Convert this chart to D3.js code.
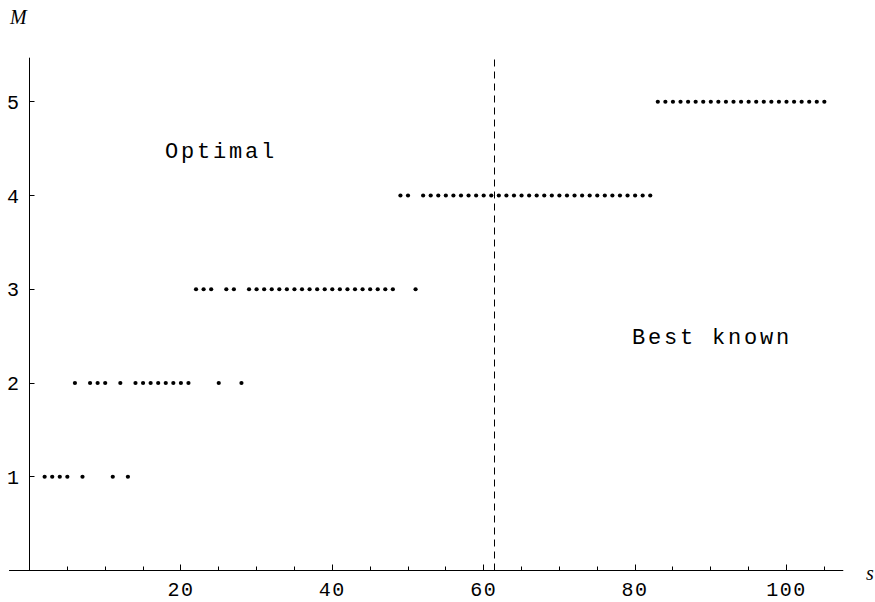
<!DOCTYPE html>
<html><head><meta charset="utf-8">
<script src="https://cdn.jsdelivr.net/npm/d3@7"></script>
<style>body{margin:0;background:#fff}svg{display:block}</style>
</head><body>
<script>
const row1 = [2,3,4,5,7,11,13];
const row2 = [6,8,9,10,12,14,15,16,17,18,19,20,21,25,28];
const row3 = [22,23,24,26,27,29,30,31,32,33,34,35,36,37,38,39,40,41,42,43,44,45,46,47,48,51];
const row4 = [49,50,52,53,54,55,56,57,58,59,60,61,62,63,64,65,66,67,68,69,70,71,72,73,74,75,76,77,78,79,80,81,82];
const row5 = [83,84,85,86,87,88,89,90,91,92,93,94,95,96,97,98,99,100,101,102,103,104,105];
const rows = [row1,row2,row3,row4,row5];
const rowM = [1,2,3,4,5];
const xMajor = [20,40,60,80,100];
const xMinor = d3.range(5,106,5);
const yTicks = [1,2,3,4,5];
const boundary = 61.5;
const labels = [{t:"Optimal", s:17.9, m:4.405},{t:"Best known", s:79.6, m:2.42}];

const W=875,H=602;
const svg=d3.select("body").append("svg").attr("width",W).attr("height",H);
const x=d3.scaleLinear().domain([0,105]).range([29.5,29.5+7.57*105]);
const y=d3.scaleLinear().domain([0,5]).range([570.5,101.75]);
const px=v=>Math.round(x(v)-0.5)+0.5;
const mono="'Liberation Mono','Courier New',monospace";

// axes lines
svg.append("line").attr("x1",x(-2.7)).attr("x2",x(107.5)).attr("y1",y(0)).attr("y2",y(0)).attr("stroke","#000").attr("stroke-width",1);
svg.append("line").attr("x1",px(0)).attr("x2",px(0)).attr("y1",y(0)).attr("y2",y(5.47)).attr("stroke","#000").attr("stroke-width",1);

// x ticks
svg.selectAll(".xmin").data(xMinor).join("line")
  .attr("x1",d=>px(d)).attr("x2",d=>px(d)).attr("y1",y(0)).attr("y2",d=>y(0)-(d%20===0?6:4))
  .attr("stroke","#000").attr("stroke-width",1);
svg.selectAll(".xl").data(xMajor).join("text")
  .attr("x",d=>x(d)).attr("y",596).attr("text-anchor","middle")
  .attr("font-family",mono).attr("font-size",20).attr("letter-spacing",1.5).text(d=>d);
// y ticks
svg.selectAll(".yt").data(yTicks).join("line")
  .attr("x1",px(0)).attr("x2",px(0)+5).attr("y1",d=>Math.round(y(d)-0.5)+0.5).attr("y2",d=>Math.round(y(d)-0.5)+0.5).attr("stroke","#000");
svg.selectAll(".yl").data(yTicks).join("text")
  .attr("x",19).attr("y",d=>y(d)+7).attr("text-anchor","end")
  .attr("font-family",mono).attr("font-size",20).text(d=>d);

// dashed boundary
svg.append("line").attr("x1",px(boundary)-1).attr("x2",px(boundary)-1).attr("y1",y(0)).attr("y2",y(5.47))
  .attr("stroke","#000").attr("stroke-width",1).attr("stroke-dasharray","7,5");

// points
rows.forEach((r,i)=>{
  svg.selectAll(null).data(r).join("circle")
    .attr("cx",d=>x(d)).attr("cy",y(rowM[i])).attr("r",2.1).attr("fill","#000");
});

// annotations
svg.selectAll(".ann").data(labels).join("text")
  .attr("x",d=>x(d.s)).attr("y",d=>y(d.m))
  .attr("font-family",mono).attr("font-size",22).attr("letter-spacing",2.8).text(d=>d.t);

// axis titles
svg.append("text").attr("x",10).attr("y",24).attr("font-family","'Liberation Serif','Times New Roman',serif")
  .attr("font-style","italic").attr("font-size",20).text("M");
svg.append("text").attr("x",866).attr("y",580).attr("font-family","'Liberation Serif','Times New Roman',serif")
  .attr("font-style","italic").attr("font-size",20).text("s");
</script>
</body></html>
